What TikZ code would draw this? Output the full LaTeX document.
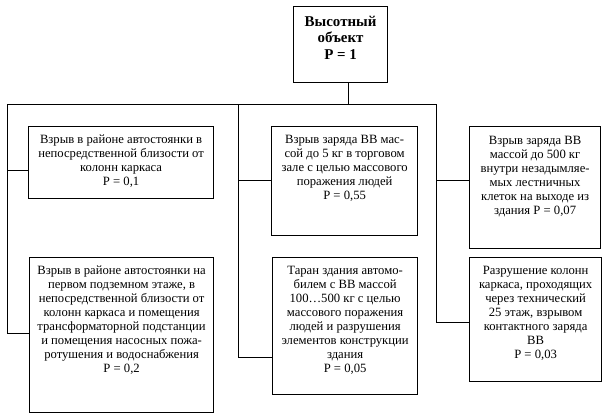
\documentclass[tikz,border=0pt]{standalone}
\usepackage{fontspec}
\setmainfont{Liberation Serif}
\begin{document}
\begin{tikzpicture}[x=1bp,y=-1bp,
  box/.style={draw, line width=1.2bp, inner sep=0pt, anchor=north west},
  txt/.style={anchor=north, align=center, inner sep=0pt, font=\fontsize{12.7}{14}\selectfont},
  toptxt/.style={anchor=north, align=center, inner sep=0pt, font=\fontsize{15}{16.5}\selectfont\bfseries},
  conn/.style={line width=1bp}]
\useasboundingbox (0,0) rectangle (605,418);
% boxes
\node[box, minimum width=94bp, minimum height=76bp] (top) at (293,6) {};
\node[box, minimum width=185bp, minimum height=72bp] (b1) at (28,126) {};
\node[box, minimum width=146bp, minimum height=109bp] (b2) at (271,126) {};
\node[box, minimum width=131bp, minimum height=122bp] (b3) at (469,126) {};
\node[box, minimum width=184bp, minimum height=155bp] (b4) at (29,257) {};
\node[box, minimum width=145bp, minimum height=137bp] (b5) at (272,257) {};
\node[box, minimum width=132bp, minimum height=124bp] (b6) at (469,257) {};
% texts
\node[toptxt] (tt) at ([yshift=-10bp]top.north) {Высотный\\объект\\P = 1};
\node[txt] (t1) at ([yshift=-9bp]b1.north) {Взрыв в районе автостоянки в\\непосредственной близости от\\колонн каркаса\\P = 0,1};
\node[txt] (t2) at ([yshift=-9bp]b2.north) {Взрыв заряда ВВ мас-\\сой до 5 кг в торговом\\зале с целью массового\\поражения людей\\P = 0,55};
\node[txt] (t3) at ([yshift=-10bp]b3.north) {Взрыв заряда ВВ\\массой до 500 кг\\внутри незадымляе-\\мых лестничных\\клеток на выходе из\\здания P = 0,07};
\node[txt] (t4) at ([yshift=-9bp]b4.north) {Взрыв в районе автостоянки на\\первом подземном этаже, в\\непосредственной близости от\\колонн каркаса и помещения\\трансформаторной подстанции\\и помещения насосных пожа-\\ротушения и водоснабжения\\P = 0,2};
\node[txt] (t5) at ([yshift=-9bp]b5.north) {Таран здания автомо-\\билем с ВВ массой\\100…500 кг с целью\\массового поражения\\людей и разрушения\\элементов конструкции\\здания\\P = 0,05};
\node[txt] (t6) at ([yshift=-9bp]b6.north) {Разрушение колонн\\каркаса, проходящих\\через технический\\25 этаж, взрывом\\контактного заряда\\ВВ\\P = 0,03};
% connector coordinates
\coordinate (j0) at (348,104);
\coordinate (L0) at (7,104);
\coordinate (M0) at (238,104);
\coordinate (R0) at (436,104);
\coordinate (l1) at (7,170);
\coordinate (l4) at (7,333);
\coordinate (m2) at (238,180);
\coordinate (m5) at (238,357);
\coordinate (r3) at (436,180);
\coordinate (r6) at (436,322);
% connectors
\draw[conn] (j0 |- top.south) -- (j0);
\draw[conn] (L0) -- (R0);
\draw[conn] (L0) -- (l4) -- (l4 -| b4.west);
\draw[conn] (l1) -- (l1 -| b1.west);
\draw[conn] (M0) -- (m5) -- (m5 -| b5.west);
\draw[conn] (m2) -- (m2 -| b2.west);
\draw[conn] (R0) -- (r6) -- (r6 -| b6.west);
\draw[conn] (r3) -- (r3 -| b3.west);
\end{tikzpicture}
\end{document}
